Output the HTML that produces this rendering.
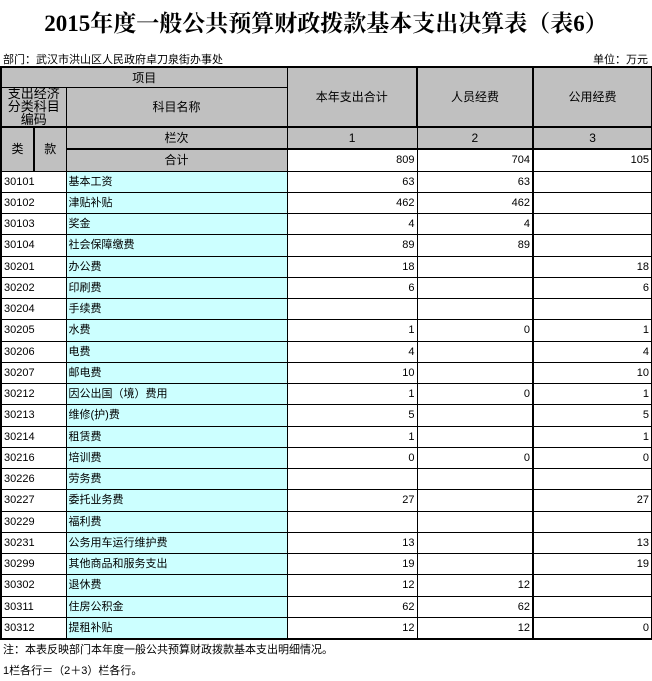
<!DOCTYPE html>
<html><head><meta charset="utf-8"><style>
body{margin:0;width:652px;height:681px;background:#fff;font-family:"Liberation Sans","Noto Sans CJK SC",sans-serif;font-size:11px;color:#000;position:relative;overflow:hidden}
.t{position:absolute;top:5px;left:0;width:652px;text-align:center;font-family:"Liberation Serif","Noto Serif CJK SC",serif;font-weight:bold;font-size:23px}
.d{position:absolute;top:51px;left:3px}
.u{position:absolute;top:51px;right:4px}
table{position:absolute;top:66px;left:0;border-collapse:collapse;table-layout:fixed;width:651px;border:2px solid #000}
td{border:1px solid #000;padding:0 2px;overflow:hidden;white-space:nowrap;height:20.25px;line-height:12px}
.g{background:#c0c0c0;text-align:center;font-size:12px}
.c{background:#ccffff}
.r{text-align:right}
.n1{position:absolute;top:641px;left:3px}
.n2{position:absolute;top:662px;left:3px}
.h{display:block;height:38px;overflow:hidden;white-space:normal;line-height:13px;font-size:13px;margin-top:-2px}
</style></head><body>
<div class="t">2015年度一般公共预算财政拨款基本支出决算表（表6）</div>
<div class="d">部门：武汉市洪山区人民政府卓刀泉街办事处</div>
<div class="u">单位：万元</div>
<table>
<colgroup><col style="width:33px"><col style="width:32px"><col style="width:221px"><col style="width:130px"><col style="width:116px"><col style="width:119px"></colgroup>
<tr><td class="g" colspan="3" style="height:19px">项目</td><td class="g" rowspan="2" style="border-right:2px solid #000">本年支出合计</td><td class="g" rowspan="2">人员经费</td><td class="g" rowspan="2" style="border-left:2px solid #000">公用经费</td></tr>
<tr><td class="g" colspan="2" style="height:38px"><span class="h">支出经济分类科目编码</span></td><td class="g">科目名称</td></tr>
<tr style="border-top:2px solid #000"><td class="g" rowspan="2" style="border-right:2px solid #000">类</td><td class="g" rowspan="2">款</td><td class="g">栏次</td><td class="g">1</td><td class="g">2</td><td class="g" style="border-left:2px solid #000">3</td></tr>
<tr style="border-top:2px solid #000"><td class="g" style="height:20px">合计</td><td class="r">809</td><td class="r">704</td><td class="r" style="border-left:2px solid #000">105</td></tr>
<tr><td colspan="2">30101</td><td class="c">基本工资</td><td class="r">63</td><td class="r">63</td><td class="r" style="border-left:2px solid #000"></td></tr>
<tr><td colspan="2">30102</td><td class="c">津贴补贴</td><td class="r">462</td><td class="r">462</td><td class="r" style="border-left:2px solid #000"></td></tr>
<tr><td colspan="2">30103</td><td class="c">奖金</td><td class="r">4</td><td class="r">4</td><td class="r" style="border-left:2px solid #000"></td></tr>
<tr><td colspan="2">30104</td><td class="c">社会保障缴费</td><td class="r">89</td><td class="r">89</td><td class="r" style="border-left:2px solid #000"></td></tr>
<tr><td colspan="2">30201</td><td class="c">办公费</td><td class="r">18</td><td class="r"></td><td class="r" style="border-left:2px solid #000">18</td></tr>
<tr><td colspan="2">30202</td><td class="c">印刷费</td><td class="r">6</td><td class="r"></td><td class="r" style="border-left:2px solid #000">6</td></tr>
<tr><td colspan="2">30204</td><td class="c">手续费</td><td class="r"></td><td class="r"></td><td class="r" style="border-left:2px solid #000"></td></tr>
<tr><td colspan="2">30205</td><td class="c">水费</td><td class="r">1</td><td class="r">0</td><td class="r" style="border-left:2px solid #000">1</td></tr>
<tr><td colspan="2">30206</td><td class="c">电费</td><td class="r">4</td><td class="r"></td><td class="r" style="border-left:2px solid #000">4</td></tr>
<tr><td colspan="2">30207</td><td class="c">邮电费</td><td class="r">10</td><td class="r"></td><td class="r" style="border-left:2px solid #000">10</td></tr>
<tr><td colspan="2">30212</td><td class="c">因公出国（境）费用</td><td class="r">1</td><td class="r">0</td><td class="r" style="border-left:2px solid #000">1</td></tr>
<tr><td colspan="2">30213</td><td class="c">维修(护)费</td><td class="r">5</td><td class="r"></td><td class="r" style="border-left:2px solid #000">5</td></tr>
<tr><td colspan="2">30214</td><td class="c">租赁费</td><td class="r">1</td><td class="r"></td><td class="r" style="border-left:2px solid #000">1</td></tr>
<tr><td colspan="2">30216</td><td class="c">培训费</td><td class="r">0</td><td class="r">0</td><td class="r" style="border-left:2px solid #000">0</td></tr>
<tr><td colspan="2">30226</td><td class="c">劳务费</td><td class="r"></td><td class="r"></td><td class="r" style="border-left:2px solid #000"></td></tr>
<tr><td colspan="2">30227</td><td class="c">委托业务费</td><td class="r">27</td><td class="r"></td><td class="r" style="border-left:2px solid #000">27</td></tr>
<tr><td colspan="2">30229</td><td class="c">福利费</td><td class="r"></td><td class="r"></td><td class="r" style="border-left:2px solid #000"></td></tr>
<tr><td colspan="2">30231</td><td class="c">公务用车运行维护费</td><td class="r">13</td><td class="r"></td><td class="r" style="border-left:2px solid #000">13</td></tr>
<tr><td colspan="2">30299</td><td class="c">其他商品和服务支出</td><td class="r">19</td><td class="r"></td><td class="r" style="border-left:2px solid #000">19</td></tr>
<tr><td colspan="2">30302</td><td class="c">退休费</td><td class="r">12</td><td class="r">12</td><td class="r" style="border-left:2px solid #000"></td></tr>
<tr><td colspan="2">30311</td><td class="c">住房公积金</td><td class="r">62</td><td class="r">62</td><td class="r" style="border-left:2px solid #000"></td></tr>
<tr><td colspan="2">30312</td><td class="c">提租补贴</td><td class="r">12</td><td class="r">12</td><td class="r" style="border-left:2px solid #000">0</td></tr>
</table>
<div class="n1">注：本表反映部门本年度一般公共预算财政拨款基本支出明细情况。</div>
<div class="n2">1栏各行＝（2＋3）栏各行。</div>
</body></html>
